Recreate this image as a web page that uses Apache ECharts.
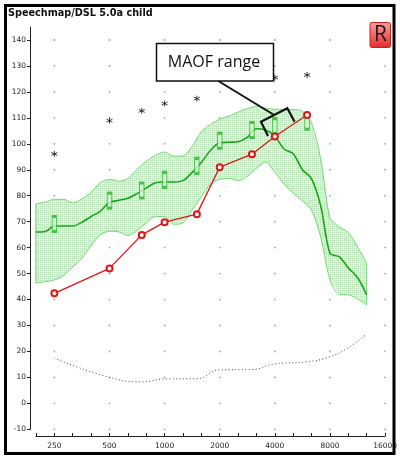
<!DOCTYPE html>
<html>
<head>
<meta charset="utf-8">
<script src="https://cdn.jsdelivr.net/npm/echarts@6/dist/echarts.min.js"></script>
<style>
html,body{margin:0;padding:0;background:#fff;}
#main{width:400px;height:461px;}
</style>
</head>
<body>
<div id="main"></div>
<script>
// speech band (1/6 octave points)
var bandFreq = [198,223,250,281,315,354,397,445,500,561,630,707,794,891,1000,1122,1260,1414,1587,1782,2000,2245,2520,2828,3175,3564,4000,4490,5040,5657,6350,7127,8000,8980,10079,11314,12699];
var bandUpper = [76.8,77.6,78.6,78.6,77.2,78.8,81.3,85.0,86.3,85.6,86.6,90.2,93.3,95.6,96.8,95.2,95.3,99.0,104.7,107.5,109.5,110.7,112.2,113.6,114.4,113.7,113.3,113.2,113.2,112.5,108.0,94.0,71.5,68.0,65.9,60.3,54.0];
var bandLower = [46.3,46.9,47.5,49.3,52.5,56.0,60.8,64.9,66.3,66.1,64.7,66.5,69.5,72.0,72.0,69.0,69.5,74.5,79.5,84.5,86.3,86.7,85.8,87.5,90.5,93.0,89.0,84.5,81.0,78.0,74.5,64.0,47.5,42.0,41.8,40.3,37.9];
var bandMid = [66.0,66.2,68.3,68.3,68.3,69.8,72.0,74.0,77.4,78.2,79.0,80.8,83.0,85.0,85.3,85.3,85.8,89.0,92.8,97.5,100.4,100.6,100.8,102.5,105.8,105.3,103.0,98.0,96.2,90.0,86.5,76.0,57.8,56.5,52.2,48.5,41.8];

// audiometric frequencies
var audFreq = [250,500,750,1000,1500,2000,3000,4000,6000];
var targetVal = [69.1,78.1,82.0,86.1,91.5,101.2,105.3,106.8,108.5];
var aidedVal = [42.4,52.0,64.9,69.8,72.9,91.0,96.0,102.8,111.1];
var uclFreq = [250,500,750,1000,1500,4000,6000];
var uclVal = [96.1,108.9,112.7,115.5,117.4,125.5,126.5];

var threshFreq = [250,500,750,1000,1500,2000,3000,4000,6000,8000,10000,12500];
var threshVal = [17.4,10.0,8.3,9.4,9.5,12.9,13.0,15.2,16.0,18.0,21.3,26.3];

// axis ticks (x in third-octave steps re 250 Hz)
var xTickVals = [-1,0,1,2,3,4,5,6,7,8,9,10,11,12,13,14,15,16,17,18];
var xLabelVals = [0,3,6,9,12,15,18];
var yTickVals = [-10,0,10,20,30,40,50,60,70,80,90,100,110,120,130,140];

function oct(f){
	return 3*Math.log2(f/250);
}
function pairs(fr, vals){
	var out = [];
	for(var i=0;i<fr.length;i++){
		out.push([oct(fr[i]), vals[i]]);
	}
	return out;
}

// grid dots only at the labelled crossings
var gridDots = [];
for(var a=0;a<xLabelVals.length;a++){
	for(var b=0;b<yTickVals.length;b++){
		gridDots.push([xLabelVals[a], yTickVals[b]]);
	}
}

// dotted fill like the original
var pat = document.createElement('canvas');
pat.width = 2; pat.height = 2;
var pctx = pat.getContext('2d');
pctx.fillStyle = '#c4edc4';
pctx.fillRect(0,0,2,2);
pctx.fillStyle = '#ffffff';
pctx.fillRect(1,1,1,1);

var bandLine = '#74d674';
var midGreen = '#18a418';
var red = '#e01515';
var lblFont = {fontFamily:'DejaVu Sans', fontSize:7.5, color:'#222'};

var last = bandFreq.length-1;

function renderBand(params, api){
	var pts = [];
	for(var i=0;i<bandFreq.length;i++){
		pts.push(api.coord([oct(bandFreq[i]), bandUpper[i]]));
	}
	for(var j=bandFreq.length-1;j>=0;j--){
		pts.push(api.coord([oct(bandFreq[j]), bandLower[j]]));
	}
	return {
		type:'polygon',
		shape:{points:pts},
		style:{fill:{image:pat, repeat:'repeat'}, stroke:null}
	};
}

var myChart = echarts.init(document.getElementById('main'));
var option = {
	animation:false,
	title:{
		text:'Speechmap/DSL 5.0a child',
		left:8, top:8, padding:0,
		textStyle:{fontFamily:'DejaVu Sans', fontSize:9.7, fontWeight:'bold', color:'#111'}
	},
	grid:{left:36, right:14, top:27, bottom:31.7},
	xAxis:{
		type:'value', min:-1, max:18, offset:6.7,
		axisLine:{onZero:false, lineStyle:{color:'#222', width:1}},
		axisTick:{inside:true, length:3, customValues:xTickVals, lineStyle:{color:'#222'}},
		axisLabel:Object.assign({customValues:xLabelVals, margin:6, formatter:function(v){
			return String(Math.round(250*Math.pow(2, v/3)));
		}}, lblFont),
		splitLine:{show:false}
	},
	yAxis:{
		type:'value', min:-10, max:145, offset:6,
		axisLine:{show:true, onZero:false, lineStyle:{color:'#222', width:1}},
		axisTick:{show:true, length:3, customValues:yTickVals, lineStyle:{color:'#222'}},
		axisLabel:Object.assign({customValues:yTickVals, margin:4}, lblFont),
		splitLine:{show:false}
	},
	series:[{
		name:'dots', type:'scatter', symbol:'circle', symbolSize:1.8, silent:true,
		data:gridDots, itemStyle:{color:'#8c8c8c'}, z:1
	},{
		name:'bandFill', type:'custom', renderItem:renderBand,
		data:[[oct(bandFreq[0]), bandLower[0]]], silent:true, z:2
	},{
		name:'bandUp', type:'line', smooth:0.3, symbol:'none',
		data:pairs(bandFreq, bandUpper),
		lineStyle:{color:bandLine, width:1}, z:3
	},{
		name:'bandLow', type:'line', smooth:0.3, symbol:'none',
		data:pairs(bandFreq, bandLower),
		lineStyle:{color:bandLine, width:1}, z:3
	},{
		name:'edgeL', type:'line', symbol:'none',
		data:[[oct(bandFreq[0]), bandLower[0]],[oct(bandFreq[0]), bandUpper[0]]],
		lineStyle:{color:bandLine, width:1}, z:3
	},{
		name:'edgeR', type:'line', symbol:'none',
		data:[[oct(bandFreq[last]), bandLower[last]],[oct(bandFreq[last]), bandUpper[last]]],
		lineStyle:{color:bandLine, width:1}, z:3
	},{
		name:'mid', type:'line', smooth:0.3, symbol:'none',
		data:pairs(bandFreq, bandMid),
		lineStyle:{color:midGreen, width:1.6}, z:4
	},{
		name:'thresh', type:'line', smooth:true, symbol:'none',
		data:pairs(threshFreq, threshVal),
		lineStyle:{color:'#444', width:1, type:[1,2.4]}, z:4
	},{
		name:'target', type:'scatter', symbol:'rect', symbolSize:[4.5,15],
		data:pairs(audFreq, targetVal),
		itemStyle:{color:'#d4f4d4', borderColor:'#22b822', borderWidth:1.7}, z:5
	},{
		name:'aided', type:'line', symbol:'emptyCircle', symbolSize:6,
		data:pairs(audFreq, aidedVal),
		lineStyle:{color:red, width:1.3},
		itemStyle:{color:red, borderWidth:1.3}, z:6
	},{
		name:'ucl', type:'scatter',
		symbol:'path://M5,0L5,10M0.7,2.5L9.3,7.5M0.7,7.5L9.3,2.5', symbolSize:6,
		data:pairs(uclFreq, uclVal),
		itemStyle:{color:'rgba(0,0,0,0)', borderColor:'#111', borderWidth:1}, z:5
	}],
	graphic:[{
		type:'rect', z:100,
		shape:{x:156.5, y:43.5, width:117, height:37.5},
		style:{fill:'#fff', stroke:'#111', lineWidth:1.5}
	},{
		type:'text', z:101, x:214, y:62,
		style:{text:'MAOF range', fontFamily:'Open Sans', fontSize:16, fill:'#111', align:'center', verticalAlign:'middle'}
	},{
		type:'polyline', z:100,
		shape:{points:[[218.3,81],[274.2,115]]},
		style:{stroke:'#111', lineWidth:2, fill:null}
	},{
		type:'polyline', z:100,
		shape:{points:[[268,136],[261,121.7],[287.3,108.3],[294.6,121.7]]},
		style:{stroke:'#111', lineWidth:2.2, fill:null}
	},{
		type:'rect', z:100,
		shape:{x:370, y:22.5, width:20.5, height:25, r:2},
		style:{
			fill:new echarts.graphic.LinearGradient(0,0,0,1,[{offset:0,color:'#ff9d9d'},{offset:1,color:'#e32b2b'}]),
			stroke:'#c42020', lineWidth:1
		}
	},{
		type:'text', z:101, x:380.5, y:35.5,
		style:{text:'R', fontFamily:'Open Sans', fontSize:21, fill:'#1a1a1a', align:'center', verticalAlign:'middle'}
	},{
		type:'rect', z:100,
		shape:{x:5.5, y:5.5, width:388.5, height:448},
		style:{fill:null, stroke:'#000', lineWidth:3}
	}]
};
myChart.setOption(option);
</script>
</body>
</html>
